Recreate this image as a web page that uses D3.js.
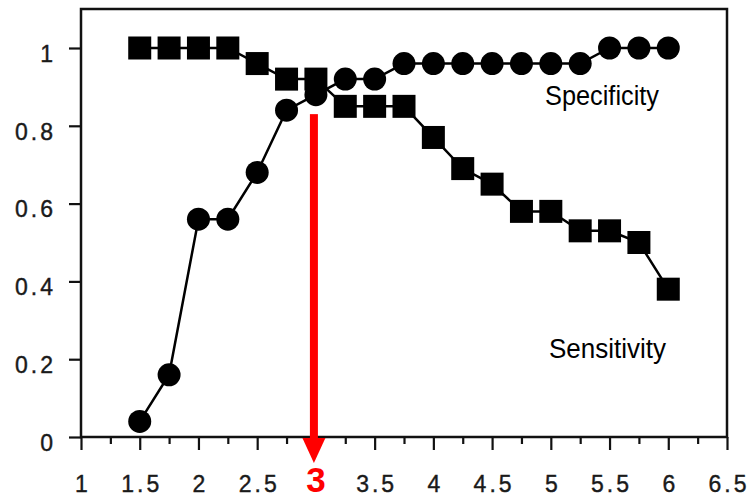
<!DOCTYPE html>
<html>
<head>
<meta charset="utf-8">
<script src="https://cdn.jsdelivr.net/npm/d3@7"></script>
<style>
  html, body { margin: 0; padding: 0; background: #fff; }
  svg { display: block; }
</style>
</head>
<body>
<svg id="chart" width="753" height="498"></svg>
<script>
const thresholds = [1.5, 1.75, 2, 2.25, 2.5, 2.75, 3, 3.25, 3.5, 3.75, 4, 4.25, 4.5, 4.75, 5, 5.25, 5.5, 5.75, 6];
const sensitivity = [1, 1, 1, 1, 0.96, 0.92, 0.92, 0.85, 0.85, 0.85, 0.77, 0.69, 0.65, 0.58, 0.58, 0.53, 0.53, 0.5, 0.38];
const specificity = [0.04, 0.16, 0.56, 0.56, 0.68, 0.84, 0.88, 0.92, 0.92, 0.96, 0.96, 0.96, 0.96, 0.96, 0.96, 0.96, 1, 1, 1];
const xTickValues = [1, 1.5, 2, 2.5, 3, 3.5, 4, 4.5, 5, 5.5, 6, 6.5];
const xTickLabels = ["1", "1.5", "2", "2.5", "", "3.5", "4", "4.5", "5", "5.5", "6", "6.5"];
const yTickValues = [0, 0.2, 0.4, 0.6, 0.8, 1];
const yTickLabels = ["0", "0.2", "0.4", "0.6", "0.8", "1"];
const cutoff = 3;
const cutoffLabel = "3";

(function () {
const svg = d3.select("#chart");
const pLeft = 81, pRight = 727, pTop = 9, pBottom = 437;
const x = d3.scaleLinear().domain([1, 6.5]).range([pLeft, pRight]);
const y = d3.scaleLinear().domain([0, 1]).range([pBottom, 48]);

// frame
svg.append("rect")
  .attr("x", pLeft).attr("y", pTop)
  .attr("width", pRight - pLeft).attr("height", pBottom - pTop)
  .attr("fill", "none").attr("stroke", "#111").attr("stroke-width", 2.5);

// x axis
const minorTicks = d3.range(1, 6.5001, 0.25);
const xAxis = svg.append("g").attr("transform", `translate(0,${pBottom})`)
  .call(d3.axisBottom(x).tickValues(minorTicks).tickSize(7).tickFormat(""));
xAxis.select(".domain").remove();
xAxis.selectAll(".tick line")
  .attr("stroke", "#111").attr("stroke-width", 2.2)
  .attr("y2", d => (Math.abs(d * 2 - Math.round(d * 2)) < 1e-6) ? 13 : 7);

const xLabelG = svg.append("g").attr("transform", `translate(0,${pBottom})`)
  .call(d3.axisBottom(x).tickValues(xTickValues).tickSize(0)
    .tickFormat((d, i) => xTickLabels[i]));
xLabelG.select(".domain").remove();
xLabelG.selectAll(".tick text")
  .attr("y", 55).attr("dy", 0)
  .attr("font-family", "Liberation Sans, Arial, sans-serif")
  .attr("font-size", 23)
  .attr("letter-spacing", 3)
  .attr("dx", 1.5)
  .attr("fill", "#1a1a1a")
  .attr("stroke", "#1a1a1a").attr("stroke-width", 0.4);

// y axis
const yAxis = svg.append("g").attr("transform", `translate(${pLeft},0)`)
  .call(d3.axisLeft(y).tickValues(yTickValues).tickSize(12)
    .tickFormat((d, i) => yTickLabels[i]));
yAxis.select(".domain").remove();
yAxis.selectAll(".tick line").attr("stroke", "#111").attr("stroke-width", 2.2);
yAxis.selectAll(".tick text")
  .attr("x", -25).attr("dy", "0.58em")
  .attr("font-family", "Liberation Sans, Arial, sans-serif")
  .attr("font-size", 23)
  .attr("letter-spacing", 3)
  .attr("fill", "#1a1a1a")
  .attr("stroke", "#1a1a1a").attr("stroke-width", 0.4);

// lines
const line = d3.line().x((d, i) => x(thresholds[i])).y(d => y(d));
svg.append("path").datum(specificity).attr("d", line)
  .attr("fill", "none").attr("stroke", "#000").attr("stroke-width", 2.5);
svg.append("path").datum(sensitivity).attr("d", line)
  .attr("fill", "none").attr("stroke", "#000").attr("stroke-width", 2.5);

// markers
const sq = 23;
svg.append("g").selectAll("rect").data(sensitivity).join("rect")
  .attr("x", (d, i) => x(thresholds[i]) - sq / 2)
  .attr("y", d => y(d) - sq / 2)
  .attr("width", sq).attr("height", sq).attr("fill", "#000");
svg.append("g").selectAll("circle").data(specificity).join("circle")
  .attr("cx", (d, i) => x(thresholds[i]))
  .attr("cy", d => y(d))
  .attr("r", 11.5).attr("fill", "#000");

// labels
svg.append("text").text("Specificity")
  .attr("x", 545).attr("y", 105)
  .attr("font-family", "Liberation Sans, Arial, sans-serif")
  .attr("font-size", 27)
  .attr("textLength", 114).attr("lengthAdjust", "spacingAndGlyphs")
  .attr("fill", "#000");
svg.append("text").text("Sensitivity")
  .attr("x", 549).attr("y", 358)
  .attr("font-family", "Liberation Sans, Arial, sans-serif")
  .attr("font-size", 27)
  .attr("textLength", 117).attr("lengthAdjust", "spacingAndGlyphs")
  .attr("fill", "#000");

// red cutoff arrow
const ax = x(cutoff) - 2;
svg.append("rect")
  .attr("x", ax - 4).attr("y", y(0.83))
  .attr("width", 8).attr("height", 440 - y(0.83))
  .attr("fill", "#ff0000");
svg.append("path")
  .attr("d", `M${ax - 11.5},438 L${ax + 11.5},438 L${ax},463 Z`)
  .attr("fill", "#ff0000");
svg.append("text").text(cutoffLabel)
  .attr("x", ax + 2).attr("y", 492)
  .attr("text-anchor", "middle")
  .attr("font-family", "Liberation Sans, Arial, sans-serif")
  .attr("font-weight", "bold")
  .attr("font-size", 35)
  .attr("fill", "#ff0000");
})();
</script>
</body>
</html>
